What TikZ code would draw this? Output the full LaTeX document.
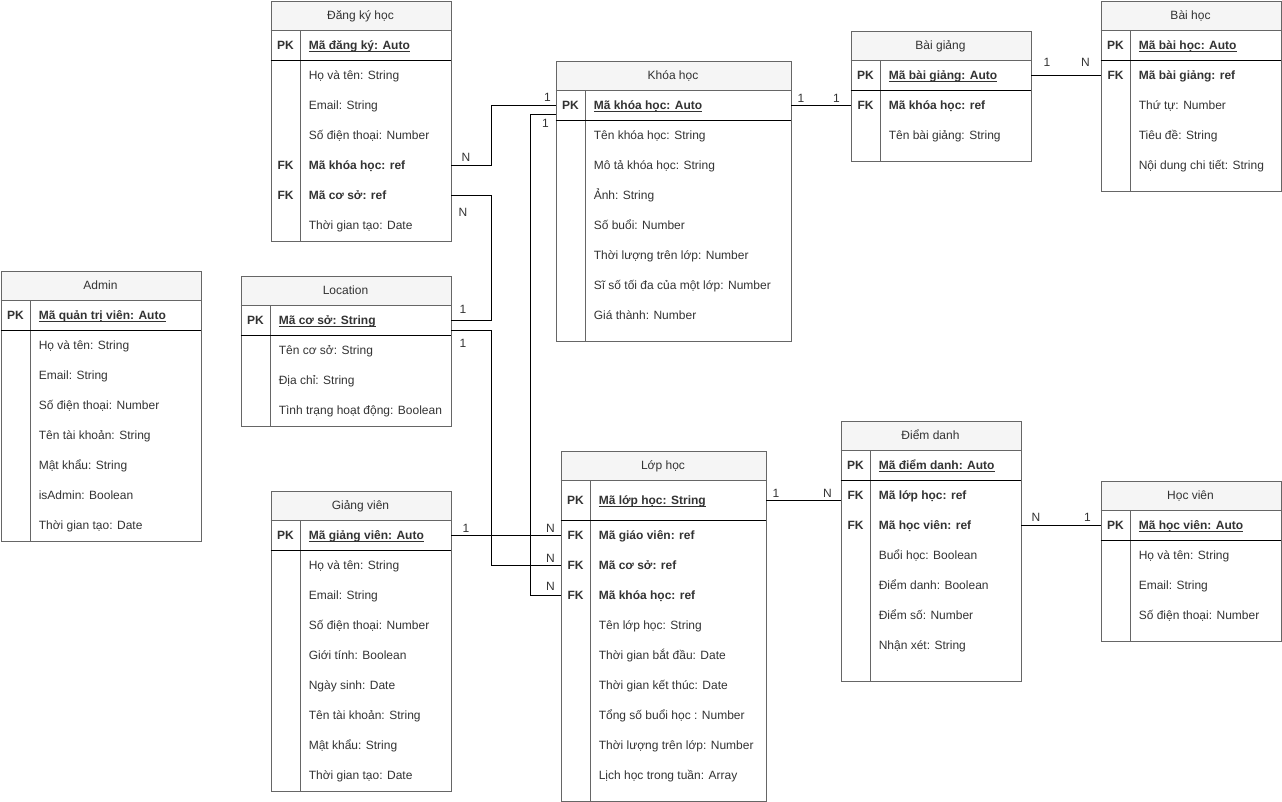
\documentclass[tikz,border=0pt]{standalone}
\usepackage{fontspec}
\setmainfont{Liberation Sans}
\usetikzlibrary{calc}

\definecolor{txt}{HTML}{333333}
\definecolor{framec}{HTML}{666666}
\definecolor{hdrfill}{HTML}{F5F5F5}

% primary key text: bold and underlined
\newcommand\pkey[1]{\textbf{\underline{\smash{#1}}}}

\tikzset{
  x=0.75pt, y=-0.75pt,
  every node/.style={font=\fontsize{9}{11}\selectfont, text=txt},
  tablebox/.style={draw=framec, line width=0.75pt, inner sep=0pt, anchor=north west},
  rowbox/.style={inner sep=0pt, anchor=north west},
  keycell/.style={font=\fontsize{9}{11}\selectfont\bfseries, inner sep=0pt, text height=8pt, text depth=1.5pt},
  cell/.style={inner sep=0pt, anchor=west, text height=8pt, text depth=1.5pt},
  titlecell/.style={inner sep=0pt, text height=8pt, text depth=1.5pt},
  pksep/.style={draw=black, line width=0.75pt},
  coldiv/.style={draw=framec, line width=0.75pt},
  conn/.style={draw=black, line width=0.75pt},
  lbl/.style={inner sep=0pt, text height=7pt, text depth=0pt},
}

% table frame with header: name, x0, y0, x1, y1, title
\newcommand\ertable[6]{%
  \fill[hdrfill] (#2,#3) rectangle (#4,#3+30);
  \draw[coldiv] (#2,#3+30) -- (#4,#3+30);
  \draw[coldiv] (#2+30,#3+30) -- (#2+30,#5);
  \node[tablebox, minimum width={(#4-#2)*0.75pt}, minimum height={(#5-#3)*0.75pt}] (#1) at (#2,#3) {};
  \node[titlecell] (#1-t) at ({(#2+#4)/2},#3+15) {#6};
}
% table row: name, x0, x1, ytop, height, key, text
\newcommand\errow[7]{%
  \node[rowbox, minimum width={(#3-#2)*0.75pt}, minimum height={#5*0.75pt}] (#1) at (#2,#4) {};
  \node[keycell] (#1-k) at (#2+15,#4+#5/2) {#6};
  \node[cell] (#1-v) at (#2+38,#4+#5/2) {#7};
}
% line under the primary key row: x0, x1, y
\newcommand\erpk[3]{\draw[pksep] (#1,#3) -- (#2,#3);}

\begin{document}
\begin{tikzpicture}
\useasboundingbox (-0.5,-0.5) rectangle (1281.5,800.5);

% ---------- Đăng ký học ----------
\ertable{dk}{270}{0}{450}{240}{Đăng ký học}
\errow{dk-pk}{270}{450}{30}{30}{PK}{\pkey{Mã đăng ký: Auto}}
\erpk{270}{450}{60}
\errow{dk-r1}{270}{450}{60}{30}{}{Họ và tên: String}
\errow{dk-r2}{270}{450}{90}{30}{}{Email: String}
\errow{dk-r3}{270}{450}{120}{30}{}{Số điện thoại: Number}
\errow{dk-fk1}{270}{450}{150}{30}{FK}{\textbf{Mã khóa học: ref}}
\errow{dk-fk2}{270}{450}{180}{30}{FK}{\textbf{Mã cơ sở: ref}}
\errow{dk-r4}{270}{450}{210}{30}{}{Thời gian tạo: Date}

% ---------- Khóa học ----------
\ertable{kh}{555}{60}{790}{340}{Khóa học}
\errow{kh-pk}{555}{790}{90}{30}{PK}{\pkey{Mã khóa học: Auto}}
\erpk{555}{790}{120}
\errow{kh-r1}{555}{790}{120}{30}{}{Tên khóa học: String}
\errow{kh-r2}{555}{790}{150}{30}{}{Mô tả khóa học: String}
\errow{kh-r3}{555}{790}{180}{30}{}{Ảnh: String}
\errow{kh-r4}{555}{790}{210}{30}{}{Số buổi: Number}
\errow{kh-r5}{555}{790}{240}{30}{}{Thời lượng trên lớp: Number}
\errow{kh-r6}{555}{790}{270}{30}{}{Sĩ số tối đa của một lớp: Number}
\errow{kh-r7}{555}{790}{300}{30}{}{Giá thành: Number}

% ---------- Bài giảng ----------
\ertable{bg}{850}{30}{1030}{160}{Bài giảng}
\errow{bg-pk}{850}{1030}{60}{30}{PK}{\pkey{Mã bài giảng: Auto}}
\erpk{850}{1030}{90}
\errow{bg-fk}{850}{1030}{90}{30}{FK}{\textbf{Mã khóa học: ref}}
\errow{bg-r1}{850}{1030}{120}{30}{}{Tên bài giảng: String}

% ---------- Bài học ----------
\ertable{bh}{1100}{0}{1280}{190}{Bài học}
\errow{bh-pk}{1100}{1280}{30}{30}{PK}{\pkey{Mã bài học: Auto}}
\erpk{1100}{1280}{60}
\errow{bh-fk}{1100}{1280}{60}{30}{FK}{\textbf{Mã bài giảng: ref}}
\errow{bh-r1}{1100}{1280}{90}{30}{}{Thứ tự: Number}
\errow{bh-r2}{1100}{1280}{120}{30}{}{Tiêu đề: String}
\errow{bh-r3}{1100}{1280}{150}{30}{}{Nội dung chi tiết: String}

% ---------- Admin ----------
\ertable{ad}{0}{270}{200}{540}{Admin}
\errow{ad-pk}{0}{200}{300}{30}{PK}{\pkey{Mã quản trị viên: Auto}}
\erpk{0}{200}{330}
\errow{ad-r1}{0}{200}{330}{30}{}{Họ và tên: String}
\errow{ad-r2}{0}{200}{360}{30}{}{Email: String}
\errow{ad-r3}{0}{200}{390}{30}{}{Số điện thoại: Number}
\errow{ad-r4}{0}{200}{420}{30}{}{Tên tài khoản: String}
\errow{ad-r5}{0}{200}{450}{30}{}{Mật khẩu: String}
\errow{ad-r6}{0}{200}{480}{30}{}{isAdmin: Boolean}
\errow{ad-r7}{0}{200}{510}{30}{}{Thời gian tạo: Date}

% ---------- Location ----------
\ertable{loc}{240}{275}{450}{425}{Location}
\errow{loc-pk}{240}{450}{305}{30}{PK}{\pkey{Mã cơ sở: String}}
\erpk{240}{450}{335}
\errow{loc-r1}{240}{450}{335}{30}{}{Tên cơ sở: String}
\errow{loc-r2}{240}{450}{365}{30}{}{Địa chỉ: String}
\errow{loc-r3}{240}{450}{395}{30}{}{Tình trạng hoạt động: Boolean}

% ---------- Giảng viên ----------
\ertable{gv}{270}{490}{450}{790}{Giảng viên}
\errow{gv-pk}{270}{450}{520}{30}{PK}{\pkey{Mã giảng viên: Auto}}
\erpk{270}{450}{550}
\errow{gv-r1}{270}{450}{550}{30}{}{Họ và tên: String}
\errow{gv-r2}{270}{450}{580}{30}{}{Email: String}
\errow{gv-r3}{270}{450}{610}{30}{}{Số điện thoại: Number}
\errow{gv-r4}{270}{450}{640}{30}{}{Giới tính: Boolean}
\errow{gv-r5}{270}{450}{670}{30}{}{Ngày sinh: Date}
\errow{gv-r6}{270}{450}{700}{30}{}{Tên tài khoản: String}
\errow{gv-r7}{270}{450}{730}{30}{}{Mật khẩu: String}
\errow{gv-r8}{270}{450}{760}{30}{}{Thời gian tạo: Date}

% ---------- Lớp học ----------
\ertable{lh}{560}{450}{765}{800}{Lớp học}
\errow{lh-pk}{560}{765}{480}{40}{PK}{\pkey{Mã lớp học: String}}
\erpk{560}{765}{520}
\errow{lh-fk1}{560}{765}{520}{30}{FK}{\textbf{Mã giáo viên: ref}}
\errow{lh-fk2}{560}{765}{550}{30}{FK}{\textbf{Mã cơ sở: ref}}
\errow{lh-fk3}{560}{765}{580}{30}{FK}{\textbf{Mã khóa học: ref}}
\errow{lh-r1}{560}{765}{610}{30}{}{Tên lớp học: String}
\errow{lh-r2}{560}{765}{640}{30}{}{Thời gian bắt đầu: Date}
\errow{lh-r3}{560}{765}{670}{30}{}{Thời gian kết thúc: Date}
\errow{lh-r4}{560}{765}{700}{30}{}{Tổng số buổi học : Number}
\errow{lh-r5}{560}{765}{730}{30}{}{Thời lượng trên lớp: Number}
\errow{lh-r6}{560}{765}{760}{30}{}{Lịch học trong tuần: Array}

% ---------- Điểm danh ----------
\ertable{dd}{840}{420}{1020}{680}{Điểm danh}
\errow{dd-pk}{840}{1020}{450}{30}{PK}{\pkey{Mã điểm danh: Auto}}
\erpk{840}{1020}{480}
\errow{dd-fk1}{840}{1020}{480}{30}{FK}{\textbf{Mã lớp học: ref}}
\errow{dd-fk2}{840}{1020}{510}{30}{FK}{\textbf{Mã học viên: ref}}
\errow{dd-r1}{840}{1020}{540}{30}{}{Buổi học: Boolean}
\errow{dd-r2}{840}{1020}{570}{30}{}{Điểm danh: Boolean}
\errow{dd-r3}{840}{1020}{600}{30}{}{Điểm số: Number}
\errow{dd-r4}{840}{1020}{630}{30}{}{Nhận xét: String}

% ---------- Học viên ----------
\ertable{hv}{1100}{480}{1280}{640}{Học viên}
\errow{hv-pk}{1100}{1280}{510}{30}{PK}{\pkey{Mã học viên: Auto}}
\erpk{1100}{1280}{540}
\errow{hv-r1}{1100}{1280}{540}{30}{}{Họ và tên: String}
\errow{hv-r2}{1100}{1280}{570}{30}{}{Email: String}
\errow{hv-r3}{1100}{1280}{600}{30}{}{Số điện thoại: Number}

% ---------- relationships ----------
% Đăng ký học -> Khóa học
\draw[conn] (dk-fk1.east) -- ++(40,0) |- (kh-pk.west);
\node[lbl] (c1a) at ($(dk-fk1.east)+(15,-9)$) {N};
\node[lbl] (c1b) at ($(kh-pk.west)+(-8,-9)$) {1};

% Đăng ký học -> Location
\draw[conn] (dk-fk2.east) -- ++(40,0) |- (loc-pk.east);
\node[lbl] (c2a) at ($(dk-fk2.east)+(12,16)$) {N};
\node[lbl] (c2b) at ($(loc-pk.east)+(12,-12)$) {1};

% Khóa học -> Lớp học
\draw[conn] ($(kh-pk.west)+(0,9)$) -- ++(-25,0) |- (lh-fk3.west);
\node[lbl] (c3a) at ($(kh-pk.west)+(-10,17)$) {1};
\node[lbl] (c3b) at ($(lh-fk3.west)+(-10,-10)$) {N};

% Location -> Lớp học
\draw[conn] ($(loc-pk.east)+(0,10)$) -- ++(40,0) |- (lh-fk2.west);
\node[lbl] (c4a) at ($(loc-pk.east)+(12,22)$) {1};
\node[lbl] (c4b) at ($(lh-fk2.west)+(-10,-8)$) {N};

% Giảng viên -> Lớp học
\draw[conn] (gv-pk.east) -- (lh-fk1.west);
\node[lbl] (c5a) at ($(gv-pk.east)+(15,-8)$) {1};
\node[lbl] (c5b) at ($(lh-fk1.west)+(-10,-8)$) {N};

% Khóa học -> Bài giảng
\draw[conn] (kh-pk.east) -- (bg-fk.west);
\node[lbl] (c6a) at ($(kh-pk.east)+(10,-8)$) {1};
\node[lbl] (c6b) at ($(bg-fk.west)+(-14,-8)$) {1};

% Bài giảng -> Bài học
\draw[conn] (bg-pk.east) -- (bh-fk.west);
\node[lbl] (c7a) at ($(bg-pk.east)+(16,-14)$) {1};
\node[lbl] (c7b) at ($(bh-fk.west)+(-15,-14)$) {N};

% Lớp học -> Điểm danh
\draw[conn] (lh-pk.east) -- (lh-pk.east -| dd-fk1.west);
\node[lbl] (c8a) at ($(lh-pk.east)+(10,-8)$) {1};
\node[lbl] (c8b) at ($(lh-pk.east -| dd-fk1.west)+(-13,-8)$) {N};

% Điểm danh -> Học viên
\draw[conn] (dd-fk2.east) -- (hv-pk.west);
\node[lbl] (c9a) at ($(dd-fk2.east)+(15,-9)$) {N};
\node[lbl] (c9b) at ($(hv-pk.west)+(-13,-9)$) {1};
\end{tikzpicture}
\end{document}
